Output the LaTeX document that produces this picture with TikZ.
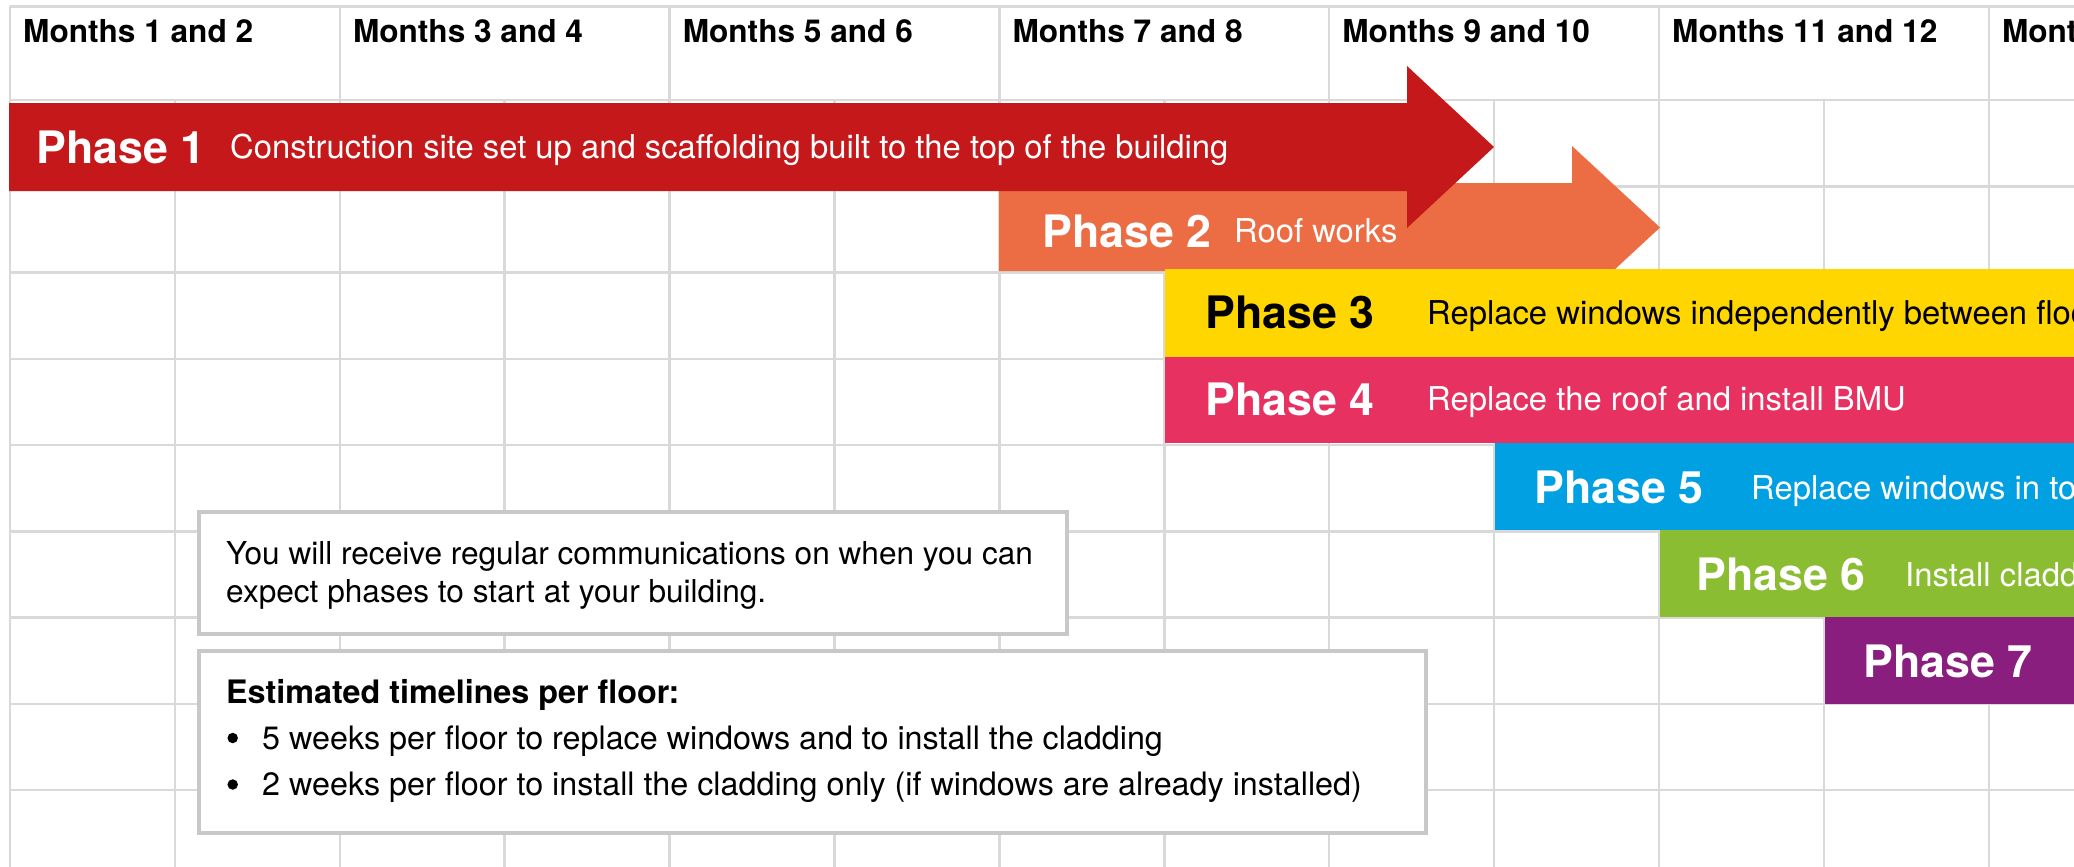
\documentclass[tikz,border=0pt]{standalone}
\usepackage{fontspec}
\setmainfont{TeX Gyre Heros}
\definecolor{gridgray}{RGB}{217,217,217}
\definecolor{boxgray}{RGB}{200,200,200}
\definecolor{ph1}{RGB}{196,24,26}
\definecolor{ph2}{RGB}{236,108,67}
\definecolor{ph3}{RGB}{255,214,0}
\definecolor{ph4}{RGB}{231,50,97}
\definecolor{ph5}{RGB}{0,160,227}
\definecolor{ph6}{RGB}{139,189,51}
\definecolor{ph7}{RGB}{138,30,126}
\begin{document}
\begin{tikzpicture}[x=1pt,y=-1pt,
  gridline/.style={draw=gridgray,line width=2.5pt},
  hdr/.style={anchor=base west,inner sep=0pt,font=\fontsize{31.6}{36}\selectfont\bfseries},
  lbl/.style={anchor=base west,inner sep=0pt,font=\fontsize{44.7}{50}\selectfont\bfseries},
  desc/.style={anchor=base west,inner sep=0pt,font=\fontsize{32.8}{38}\selectfont},
  note/.style={anchor=base west,inner sep=0pt,font=\fontsize{31.6}{38}\selectfont},
  listtext/.style={anchor=base west,inner sep=0pt,font=\fontsize{32.3}{38}\selectfont},
  dot/.style={circle,fill=black,inner sep=0pt,minimum size=10.5pt},
  notebox/.style={draw=boxgray,line width=4pt,fill=white}]
\useasboundingbox (0,0) rectangle (2074,867);
\clip (0,0) rectangle (2074,867);
\fill[white] (0,0) rectangle (2074,867);

% grid: header cells span two columns, body cells one
\foreach \i in {0,2,...,12}
  \draw[gridline] ({10+164.9*\i},6.5) -- ({10+164.9*\i},100);
\foreach \i in {0,...,12}
  \draw[gridline] ({10+164.9*\i},100) -- ({10+164.9*\i},867);
\draw[gridline] (10,6.5) -- (2074,6.5);
\foreach \k in {0,...,8}
  \draw[gridline] (10,{100+86.25*\k}) -- (2074,{100+86.25*\k});

% month headers
\foreach \i/\t in {0/{1 and 2},2/{3 and 4},4/{5 and 6},6/{7 and 8},8/{9 and 10},10/{11 and 12},12/{13 and 14}}
  \node[hdr] (hdr\i) at ({23+164.9*\i},42.7) {Months \t};

% phase 2 and phase 1 arrows
\fill[ph2] (999,183) -- (1572,183) -- (1572,146) -- (1660,227.5) -- (1572,309) -- (1572,271) -- (999,271) -- cycle;
\fill[ph1] (9,103) -- (1407,103) -- (1407,66) -- (1494,147) -- (1407,228) -- (1407,191) -- (9,191) -- cycle;

% phase bands
\fill[ph3] (1165,269) rectangle (2074,357);
\fill[ph4] (1165,357) rectangle (2074,443);
\fill[ph5] (1495,443) rectangle (2074,530);
\fill[ph6] (1660,530) rectangle (2074,617);
\fill[ph7] (1825,617) rectangle (2074,704);

% phase labels
\node[lbl,white] (p1) at (36,163) {Phase 1};
\node[desc,white] (d1) at (230,158.8) {Construction site set up and scaffolding built to the top of the building};
\node[lbl,white] (p2) at (1042,247) {Phase 2};
\node[desc,white] (d2) at (1234,242.8) {Roof works};
\node[lbl,black] (p3) at (1205,328.5) {Phase 3};
\node[desc,black] (d3) at (1427,324.3) {Replace windows independently between floors};
\node[lbl,white] (p4) at (1205,415) {Phase 4};
\node[desc,white] (d4) at (1427,410.8) {Replace the roof and install BMU};
\node[lbl,white] (p5) at (1534,503.5) {Phase 5};
\node[desc,white] (d5) at (1751,499.3) {Replace windows in top floors};
\node[lbl,white] (p6) at (1696,590.5) {Phase 6};
\node[desc,white] (d6) at (1905,586.3) {Install cladding};
\node[lbl,white] (p7) at (1863,677.8) {Phase 7};

% information boxes
\draw[notebox] (199,512) rectangle (1067,634);
\node[note] (n1) at (226,564) {You will receive regular communications on when you can};
\node[note] (n2) at (226,602) {expect phases to start at your building.};

\draw[notebox] (199,651) rectangle (1426,833);
\node[listtext,font=\fontsize{32.3}{38}\selectfont\bfseries] (t0) at (226,703) {Estimated timelines per floor:};
\node[dot] (b1) at (232.7,738) {};
\node[listtext] (t1) at (262,749) {5 weeks per floor to replace windows and to install the cladding};
\node[dot] (b2) at (232.7,784.5) {};
\node[listtext] (t2) at (262,795) {2 weeks per floor to install the cladding only (if windows are already installed)};
\end{tikzpicture}
\end{document}
